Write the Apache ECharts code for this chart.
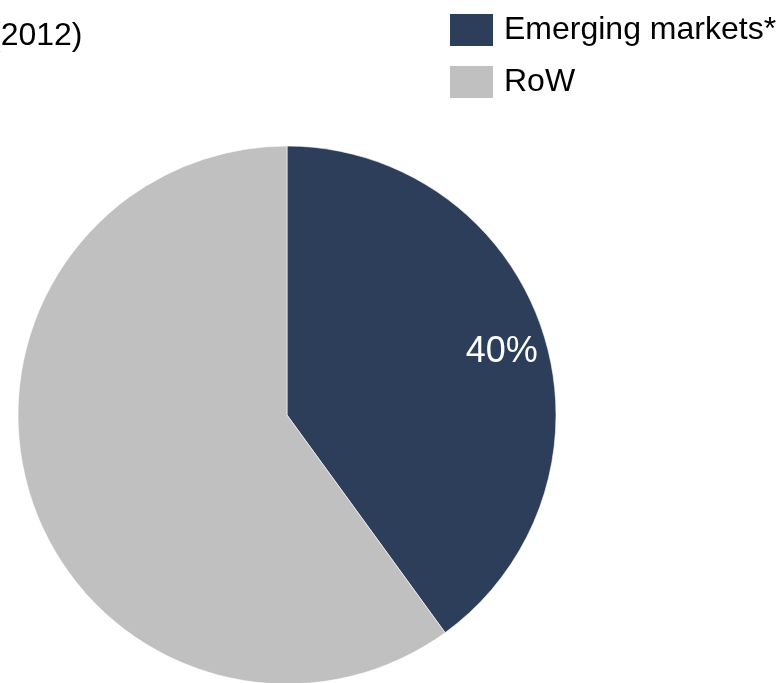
<!DOCTYPE html>
<html>
<head>
<meta charset="utf-8">
<script src="https://cdn.jsdelivr.net/npm/echarts@6/dist/echarts.min.js"></script>
<style>
  html, body { margin: 0; padding: 0; background: #ffffff; }
  #chart { width: 779px; height: 683px; }
</style>
</head>
<body>
<div id="chart"></div>
<script>
// Regional split, 2012 (percent of total)
const categories = ['Emerging markets*', 'RoW'];
const shares = [40, 60];
const colors = ['#2c3e5a', '#c0c0c0'];
const subtitleText = '(2012)';

const FONT = '"Liberation Sans", Arial, sans-serif';

const chart = echarts.init(document.getElementById('chart'), null, { renderer: 'canvas' });

chart.setOption({
  animation: false,
  backgroundColor: '#ffffff',
  graphic: [{
    type: 'text',
    left: -10,
    top: 20,
    style: {
      text: subtitleText,
      fontFamily: FONT,
      fontSize: 32,
      fill: '#000000'
    }
  }],
  legend: {
    orient: 'vertical',
    left: 448,
    top: 12,
    itemWidth: 45,
    itemHeight: 34,
    itemGap: 16,
    icon: 'rect',
    padding: 0,
    data: categories,
    textStyle: {
      fontFamily: FONT,
      fontSize: 32,
      color: '#000000',
      padding: [2, 0, 0, 5]
    }
  },
  series: [{
    type: 'pie',
    center: [287, 415],
    radius: 269,
    startAngle: 90,
    clockwise: true,
    avoidLabelOverlap: false,
    itemStyle: { borderColor: '#ffffff', borderWidth: 0.6 },
    emphasis: { disabled: true },
    labelLine: { show: false },
    data: categories.map((name, i) => ({
      name: name,
      value: shares[i],
      itemStyle: { color: colors[i] },
      label: i === 0 ? {
        show: true,
        position: 'inside',
        formatter: '{c}%',
        fontFamily: FONT,
        fontSize: 36,
        color: '#ffffff',
        offset: [84, -20]
      } : { show: false }
    }))
  }]
});
</script>
</body>
</html>
